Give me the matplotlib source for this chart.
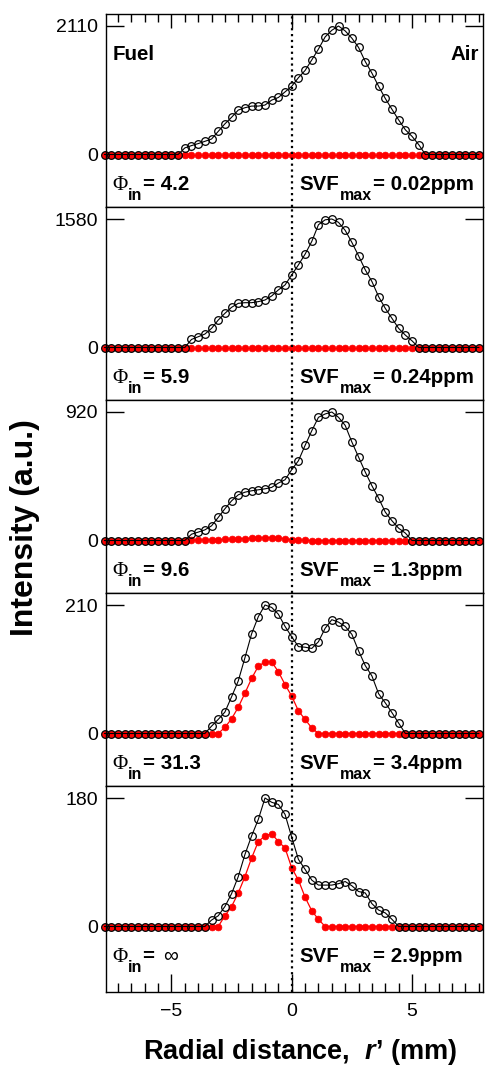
import matplotlib
matplotlib.use("Agg")
import matplotlib.pyplot as plt
from matplotlib.ticker import MultipleLocator

plt.rcParams['font.family'] = ['Liberation Sans', 'DejaVu Sans']
plt.rcParams['mathtext.fontset'] = 'custom'
plt.rcParams['mathtext.rm'] = 'Liberation Sans:bold'
plt.rcParams['mathtext.it'] = 'Liberation Sans:italic:bold'
plt.rcParams['mathtext.bf'] = 'Liberation Sans:bold'

# ---------------- data ----------------
r = [-7.778, -7.5, -7.222, -6.944, -6.667, -6.389, -6.111, -5.833, -5.556, -5.278,
     -5.0, -4.722, -4.444, -4.167, -3.889, -3.611, -3.333, -3.056, -2.778, -2.5,
     -2.222, -1.944, -1.667, -1.389, -1.111, -0.833, -0.556, -0.278, 0.0,
     0.278, 0.556, 0.833, 1.111, 1.389, 1.667, 1.944, 2.222, 2.5, 2.778,
     3.056, 3.333, 3.611, 3.889, 4.167, 4.444, 4.722, 5.0, 5.278, 5.556,
     5.833, 6.111, 6.389, 6.667, 6.944, 7.222, 7.5, 7.778]

black_1 = [0] * 12 + [108, 146, 179, 216, 254, 379, 503, 611, 730, 768, 795, 795, 812, 893, 936, 1028,
                      1120,
                      1261, 1380, 1553, 1731, 1931, 2040, 2110, 2029, 1910, 1758, 1526, 1336, 1120,
                      920, 741, 568, 406, 298, 162] + [0] * 9
red_1 = [0] * 57

black_2 = [0] * 13 + [99, 132, 165, 235, 337, 420, 494, 543, 551, 551, 564, 584, 634, 708, 769,
                      893,
                      1016, 1148, 1304, 1510, 1570, 1580, 1539, 1440, 1292, 1127, 955, 811, 625,
                      481, 358, 235, 152, 82] + [0] * 10
red_2 = [0] * 57

black_3 = [0] * 13 + [45, 60, 76, 105, 165, 227, 284, 327, 346, 356, 363, 370, 380, 411, 435,
                      507,
                      571, 681, 786, 882, 906, 920, 882, 824, 705, 597, 490, 392, 303, 203, 141,
                      88, 53] + [0] * 11
red_3 = [0] * 13 + [2, 3, 4, 5, 6, 8, 10, 12, 14, 16, 18, 20, 20, 18, 12, 6, 3, 2] + [0] * 26

black_4 = [0] * 16 + [12, 23, 35, 60, 86, 124, 163, 191, 210, 206, 195, 175,
                      158,
                      142, 141, 139, 150, 172, 186, 182, 175, 162, 135, 111, 94, 65, 50, 34,
                      17] + [0] * 12
red_4 = [0] * 18 + [10, 24, 43, 66, 90, 110, 117, 117, 101, 80, 61, 37, 23, 9] + [0] * 25

black_5 = [0] * 16 + [9, 15, 28, 46, 70, 101, 127, 150, 180, 174, 171, 157,
                      125,
                      94, 80, 65, 58, 58, 58, 60, 63, 57, 49, 47, 32, 23, 19, 10] + [0] * 13
red_5 = [0] * 18 + [15, 28, 47, 70, 96, 119, 127, 130, 119, 110, 82, 65, 41, 22, 10] + [0] * 24

y_max_labels = [2110, 1580, 920, 210, 180]
phi_labels = ["4.2", "5.9", "9.6", "31.3", "\u221e"]
svf_labels = ["0.02ppm", "0.24ppm", "1.3ppm", "3.4ppm", "2.9ppm"]
x_major_ticks = [-5, 0, 5]

blacks = [black_1, black_2, black_3, black_4, black_5]
reds = [red_1, red_2, red_3, red_4, red_5]

# ---------------- figure ----------------
W, H = 486, 1068
fig = plt.figure(figsize=(W / 100, H / 100), dpi=100)

tops = [13.5, 206.5, 399.5, 592.5, 785.5]
bots = [206.5, 399.5, 592.5, 785.5, 992.0]
left_px, right_px = 106.0, 483.0
zero_from_top = 141.0
max_from_top = 12.5

renderer = fig.canvas.get_renderer()


def pieces(x_px, base_from_top, items):
    x = x_px
    for s, kw, dy, gap in items:
        t = fig.text(x / W, (H - base_from_top - dy) / H, s, va='baseline', ha='left', **kw)
        bb = t.get_window_extent(renderer)
        x = bb.x1 + gap


BOLD = dict(fontsize=14.8, fontweight='bold', family=['Liberation Sans', 'DejaVu Sans'])
SUB = dict(fontsize=11.5, fontweight='bold', family=['Liberation Sans', 'DejaVu Sans'])
PHI = dict(fontsize=15, family=['Liberation Serif', 'DejaVu Serif'])
INF = dict(fontsize=15, family=['Liberation Sans', 'DejaVu Sans'])

for i in range(5):
    top, bot = tops[i], bots[i]
    ax = fig.add_axes([left_px / W, 1 - bot / H, (right_px - left_px) / W, (bot - top) / H])
    M = y_max_labels[i]
    span = zero_from_top - max_from_top
    ax.set_ylim(-(bot - top - zero_from_top) / span * M, (zero_from_top) / span * M)
    ax.set_xlim(-7.72, 7.95)

    ax.plot(r, reds[i], '-', color='#ff0000', lw=0.9, marker='o', ms=4.9,
            mfc='#ff0000', mec='#ff0000', mew=0.5, clip_on=False, zorder=2.1)
    ax.plot(r, blacks[i], '-', color='black', lw=0.8, marker='o', ms=5.5,
            mfc='none', mec='black', mew=0.9, clip_on=False, zorder=2.2)
    ax.axvline(0, color='black', ls=':', lw=1.6, zorder=3)

    for sp in ax.spines.values():
        sp.set_linewidth(1.0)
        sp.set_zorder(2.5)

    ax.set_yticks([0, M])
    ax.set_yticklabels(['0', str(M)])
    ax.tick_params(axis='y', which='major', direction='in', left=True, right=True,
                   length=13, width=1.0, labelsize=14, pad=6)

    ax.set_xticks(x_major_ticks)
    ax.xaxis.set_minor_locator(MultipleLocator(5 / 9))
    if i == 0:
        ax.tick_params(axis='x', which='both', direction='in', top=True, bottom=False,
                       labelbottom=False, labeltop=False, width=1.0)
        ax.tick_params(axis='x', which='major', length=10)
        ax.tick_params(axis='x', which='minor', length=5.5)
        ax.text(0.018, 1 - 46.5 / (bot - top), 'Fuel', transform=ax.transAxes,
                ha='left', va='baseline', **BOLD)
        ax.text(0.989, 1 - 46.5 / (bot - top), 'Air', transform=ax.transAxes,
                ha='right', va='baseline', **BOLD)
    elif i == 4:
        ax.tick_params(axis='x', which='both', direction='in', top=False, bottom=True,
                       labelbottom=True, width=1.0, labelsize=14, pad=8)
        ax.tick_params(axis='x', which='major', length=13)
        ax.tick_params(axis='x', which='minor', length=6.5)
        ax.set_xticklabels(['\u22125', '0', '5'])
    else:
        ax.tick_params(axis='x', which='both', top=False, bottom=False,
                       labelbottom=False, labeltop=False)

    base = top + 176.5
    if i < 4:
        val_items = [("= " + phi_labels[i], BOLD, 0, 0)]
    else:
        val_items = [("= ", BOLD, 0, 3), (phi_labels[i], INF, 0, 0)]
    pieces(112.7, base, [("\u03a6", PHI, 0, 0), ("in", SUB, 10, 0.5)] + val_items)
    pieces(299.0, base, [("SVF", BOLD, 0, 1), ("max", SUB, 10, 1),
                         ("= " + svf_labels[i], BOLD, 0, 0)])

fig.text(25 / W, 1 - 528 / H, 'Intensity (a.u.)', rotation=90, ha='center', va='center',
         fontsize=23, fontweight='bold')
fig.text(300 / W, 1 - 1052 / H, "Radial distance,  $r$\u2019 (mm)", ha='center', va='center',
         fontsize=19.5, fontweight='bold')

fig.savefig('out.png', dpi=100)
